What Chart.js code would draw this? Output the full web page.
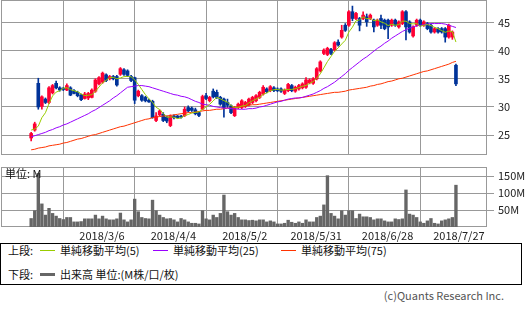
<!DOCTYPE html>
<html><head><meta charset="utf-8">
<script src="https://cdn.jsdelivr.net/npm/chart.js@4.4.1/dist/chart.umd.min.js"></script>
<style>
body{margin:0;background:#fff;width:525px;height:310px;overflow:hidden;position:relative;font-family:'Noto Sans CJK JP','DejaVu Sans',sans-serif;}
canvas{position:absolute;left:0;}
#c1{top:0;}
#c2{top:160px;}
#unit{position:absolute;left:5px;top:167px;font-size:11px;line-height:13px;color:#111;}
#legend{position:absolute;left:0;top:243px;width:520px;height:40px;border:1px solid #000;}
#legend span{position:absolute;font-size:11px;line-height:13px;color:#111;white-space:nowrap;}
#legend i{position:absolute;display:block;}
#copy{position:absolute;right:21px;top:289px;font-size:11px;line-height:13px;color:#555;white-space:nowrap;}
</style></head>
<body>
<canvas id="c1" width="525" height="155"></canvas>
<canvas id="c2" width="525" height="82"></canvas>
<div id="unit">単位: M</div>
<div id="legend">
  <span style="left:7px;top:0px">上段:</span>
  <i style="left:39px;top:6px;width:15px;height:1px;background:#99cc00"></i>
  <span style="left:59px;top:0px">単純移動平均(5)</span>
  <i style="left:152px;top:6px;width:15px;height:1px;background:#9900ff"></i>
  <span style="left:172px;top:0px">単純移動平均(25)</span>
  <i style="left:280px;top:6px;width:15px;height:1px;background:#ff3300"></i>
  <span style="left:300px;top:0px">単純移動平均(75)</span>
  <span style="left:7px;top:24px">下段:</span>
  <i style="left:39px;top:29px;width:15px;height:3px;background:#666"></i>
  <span style="left:59px;top:24px">出来高 単位:(M株/口/枚)</span>
</div>
<div id="copy">(c)Quants Research Inc.</div>
<script>
const tickIndex = [19, 39, 59, 79, 99, 119];
const tickLabels = ['2018/3/6', '2018/4/4', '2018/5/2', '2018/5/31', '2018/6/28', '2018/7/27'];
const priceTicks = [25, 30, 35, 40, 45];
const volumeTicks = [50, 100, 150];

const opens = [24.5,25.9,34.2,30.1,31.4,30.8,32.5,34.2,33.4,33.3,
33.0,33.4,32.9,32.6,32.1,31.5,31.6,31.7,32.8,34.1,
34.4,35.7,35.0,35.4,35.4,35.8,36.6,36.4,35.4,35.2,
32.0,32.0,31.7,31.2,31.0,27.6,28.6,28.7,28.2,26.7,
28.4,28.4,28.3,28.45,29.9,29.8,29.5,29.0,29.6,32.0,
31.1,32.8,32.6,31.7,31.4,30.8,30.2,28.45,29.9,29.9,
30.1,30.4,30.8,31.1,31.7,32.3,33.2,32.9,33.4,33.2,
33.2,32.4,32.9,33.8,32.8,33.2,33.4,33.5,34.3,34.2,
35.0,36.4,39.5,39.3,40.2,40.1,41.5,42.4,44.5,44.5,
46.9,45.7,45.7,45.7,46.0,45.7,45.4,44.5,45.7,45.4,
45.4,44.5,45.4,44.2,44.8,46.9,45.1,42.6,44.5,45.4,
44.5,44.8,44.5,43.3,43.9,43.9,43.9,42.4,42.4,37.4];
const highs = [25.5,27.3,35.1,32.0,31.6,33.6,34.0,34.6,33.6,33.5,
34.1,33.6,33.1,32.8,32.3,32.6,32.6,33.2,35.0,35.4,
36.2,35.9,35.6,35.6,35.6,37.0,36.8,36.6,35.6,35.3,
33.0,32.2,31.9,31.4,31.2,29.0,29.5,29.0,28.4,28.6,
28.6,28.5,28.5,30.0,30.2,30.0,29.8,29.2,32.1,32.4,
31.9,33.2,33.0,31.9,31.6,31.4,30.4,30.1,30.7,31.3,
31.0,31.6,31.9,32.2,32.8,33.8,33.4,33.8,33.6,33.4,
33.4,33.2,34.2,34.0,33.7,34.0,34.3,35.2,35.0,35.2,
37.0,38.2,40.3,40.6,40.4,41.6,41.9,44.5,44.8,47.1,
47.9,46.8,45.9,46.9,46.5,46.5,45.6,45.6,46.3,45.6,
45.6,45.6,45.6,45.3,47.1,47.1,45.3,44.4,45.6,45.6,
45.3,45.0,44.7,44.1,44.1,44.1,44.1,44.7,43.5,37.6];
const lows = [24.0,25.7,29.6,29.6,30.6,30.6,32.3,33.2,32.8,32.9,
32.9,32.0,32.3,31.8,31.1,31.4,31.3,31.6,32.6,33.9,
34.2,34.5,34.8,34.8,33.7,35.6,35.6,35.4,34.5,30.6,
31.8,31.0,30.9,30.8,28.0,27.4,28.4,27.4,27.2,26.5,
27.9,28.0,28.0,28.3,29.1,29.2,28.6,28.3,29.5,31.3,
30.9,31.6,31.5,30.3,28.2,29.9,28.8,28.3,29.7,29.7,
29.9,30.2,30.6,30.9,31.5,32.1,32.5,32.7,32.7,32.7,
32.6,32.2,32.7,32.7,32.6,33.0,33.2,33.3,34.1,34.0,
34.8,36.2,39.3,39.1,39.3,39.9,40.8,42.2,43.4,44.3,
45.3,45.5,43.5,45.5,44.3,45.5,43.3,44.3,43.9,43.7,
42.1,44.3,44.3,44.0,44.6,41.9,43.1,42.4,44.3,44.3,
44.3,43.7,43.1,43.1,43.1,43.1,41.5,42.2,42.0,33.8];
const closes = [25.3,27.0,30.0,31.8,30.8,33.4,33.8,33.4,33.0,33.1,
33.8,32.1,32.4,32.0,31.3,32.3,32.4,33.0,34.8,35.2,
36.0,34.7,35.4,35.0,33.9,36.8,35.8,35.6,34.7,31.2,
32.8,31.2,31.1,30.9,28.1,28.4,29.3,27.6,27.5,28.4,
28.1,28.1,28.2,29.6,29.3,29.4,28.8,28.5,31.85,31.5,
31.7,31.8,31.7,30.5,29.9,30.3,29.0,29.9,30.5,31.1,
30.8,31.4,31.7,32.0,32.6,33.5,32.7,33.6,32.9,32.9,
32.8,33.0,34.0,32.9,33.5,33.8,34.1,34.8,34.8,35.0,
36.8,38.0,40.1,40.4,39.5,41.4,41.0,43.6,43.6,46.9,
45.7,46.6,44.5,46.3,45.1,46.3,44.2,45.4,44.5,43.9,
44.2,45.4,44.5,45.1,46.9,44.2,43.3,44.2,45.4,44.5,
45.1,43.9,43.3,43.9,43.3,43.3,42.4,44.5,43.3,34.1];
const volumes = [25,48,158,68,35,55,40,32,25,22,
28,28,15,15,16,24,24,24,35,24,
32,24,21,21,24,41,21,15,21,82,
45,28,25,24,79,48,35,28,24,25,
21,15,25,21,15,11,11,9,48,24,
21,35,28,40,94,45,35,40,28,21,
21,19,20,18,21,21,15,18,15,9,
9,11,20,14,11,15,11,21,15,15,
28,32,65,151,40,32,24,48,35,48,
48,25,38,30,30,28,21,24,24,18,
15,15,24,22,24,109,38,35,28,15,
11,18,25,11,9,18,21,24,28,123];
// 5-day average values at the first four days (earlier days are outside the picture)
const ma5Head = [25.9, 26.1, 26.6, 28.1];
const ma25 = [24.7,24.9,25.1,25.3,25.5,25.8,
26.0,26.3,26.5,26.8,27.0,
27.3,27.6,27.9,28.2,28.5,
28.8,29.2,29.5,29.9,
30.3,30.7,31.1,31.6,32.0,
32.5,33.0,33.5,
33.6,33.7,33.8,
33.8,33.7,33.6,33.4,
33.2,33.0,32.8,32.6,32.4,
32.2,32.1,31.9,31.8,31.6,
31.3,31.0,30.8,30.5,
30.4,30.3,30.1,30.0,29.9,
29.8,29.8,29.7,29.7,29.6,29.6,
29.6,29.7,29.7,29.8,
30.0,30.1,30.3,30.5,
30.7,30.9,31.0,31.2,31.4,
31.5,31.6,31.6,31.7,
31.9,32.1,32.3,
32.6,32.9,33.3,33.6,34.0,
34.4,34.9,35.4,35.9,36.5,
37.0,37.5,38.0,38.5,38.9,
39.4,39.9,40.4,40.8,41.3,
41.7,42.2,42.6,43.0,43.4,
43.7,44.0,44.2,44.4,44.5,
44.6,44.7,44.8,44.8,44.8,
44.8,44.7,44.5,44.3,44.1];
const ma75 = [22.4,22.5,22.7,22.8,22.9,23.1,23.2,23.3,23.4,23.6,23.7,
23.9,24.1,24.3,24.4,24.6,24.8,25.0,25.1,25.3,
25.5,25.7,25.9,26.1,26.3,26.5,26.6,26.8,27.0,27.2,
27.4,27.6,27.8,27.9,28.1,
28.2,28.3,28.4,28.4,28.5,28.6,
28.7,28.8,28.9,29.0,29.0,29.1,29.2,29.3,
29.4,29.4,29.5,29.6,29.6,29.7,29.8,29.8,29.9,30.0,
30.1,30.2,30.3,30.4,30.4,30.5,30.6,30.7,30.8,
30.9,31.0,31.1,31.2,31.3,31.4,31.5,31.6,31.7,
31.8,31.9,32.0,32.1,32.2,32.3,32.4,32.5,32.6,32.6,32.7,
32.8,33.0,33.1,33.2,33.3,33.4,33.5,33.7,33.8,
34.0,34.1,34.3,34.5,34.6,34.8,35.0,35.1,35.3,
35.5,35.7,35.9,36.1,36.3,36.4,36.6,36.8,37.0,
37.2,37.4,37.6,37.9,38.1];

const FONT = "'Noto Sans CJK JP','DejaVu Sans',sans-serif";
const UP = '#ff0033', DOWN = '#003399';
const X_MIN = -8.45, X_MAX = 127.7;

const ma5 = closes.map((c, i) => {
  if (i < 4) return ma5Head[i];
  let s = 0; for (let k = i - 4; k <= i; k++) s += closes[k];
  return s / 5;
});
const candleColors = closes.map((c, i) => c >= opens[i] ? UP : DOWN);
const pts = arr => arr.map((v, i) => ({x: i, y: v}));

const frame = {
  id: 'frame',
  beforeDatasetsDraw(chart) {
    const a = chart.chartArea, ctx = chart.ctx;
    ctx.save();
    ctx.strokeStyle = '#999'; ctx.lineWidth = 1;
    ctx.strokeRect(Math.round(a.left) + 0.5, Math.round(a.top) + 0.5,
      Math.round(a.right) - Math.round(a.left) - 1, Math.round(a.bottom) - Math.round(a.top) - 1);
    ctx.restore();
  }
};

const zeroPad = s => { s.paddingTop = 0; s.paddingBottom = 0; s.paddingLeft = 0; s.paddingRight = 0; };

const xScale = (axisHeight, showLabels) => ({
  type: 'linear', min: X_MIN, max: X_MAX, offset: false,
  afterBuildTicks: s => { s.ticks = tickIndex.map(v => ({value: v})); },
  afterFit: s => { s.height = axisHeight; zeroPad(s); },
  ticks: showLabels ? {
    autoSkip: false, maxRotation: 0, padding: 2, labelOffset: 3, color: '#222',
    font: {size: 11, family: FONT},
    callback: v => tickLabels[tickIndex.indexOf(v)]
  } : {display: false},
  grid: {color: '#999', drawTicks: false},
  border: {display: false}
});

const yScale = (min, max, ticks, fmt) => ({
  position: 'right', min: min, max: max,
  afterBuildTicks: s => { s.ticks = ticks.map(v => ({value: v})); },
  afterFit: s => { s.width = 38; zeroPad(s); },
  ticks: {color: '#222', padding: 4, font: {size: 11, family: FONT}, callback: fmt},
  grid: {color: '#999', tickLength: 7},
  border: {display: false}
});

new Chart(document.getElementById('c1'), {
  type: 'bar',
  data: {datasets: [
    {type: 'line', data: pts(ma5), borderColor: '#99cc00', borderWidth: 1, pointRadius: 0, order: 0},
    {type: 'line', data: pts(ma25), borderColor: '#9900ff', borderWidth: 1, pointRadius: 0, order: 0},
    {type: 'line', data: pts(ma75), borderColor: '#ff3300', borderWidth: 1, pointRadius: 0, order: 0},
    {type: 'bar', data: lows.map((l, i) => ({x: i, y: [l, highs[i]]})), backgroundColor: candleColors,
      barThickness: 1, grouped: false, order: 2},
    {type: 'bar', data: opens.map((o, i) => ({x: i, y: [o, closes[i]]})), backgroundColor: candleColors,
      barThickness: 3, minBarLength: 1, grouped: false, order: 1}
  ]},
  options: {
    responsive: false, animation: false, events: [],
    layout: {padding: {left: 1, top: 0, right: 0, bottom: 0}},
    plugins: {legend: {display: false}, tooltip: {enabled: false}},
    scales: {
      x: xScale(0, false),
      y: yScale(21.48, 48.98, priceTicks, v => v)
    }
  },
  plugins: [frame]
});

new Chart(document.getElementById('c2'), {
  type: 'bar',
  data: {datasets: [
    {data: pts(volumes), backgroundColor: '#666', barThickness: 2.7}
  ]},
  options: {
    responsive: false, animation: false, events: [],
    layout: {padding: {left: 1, top: 7, right: 0, bottom: 0}},
    plugins: {legend: {display: false}, tooltip: {enabled: false}},
    scales: {
      x: xScale(15, true),
      y: yScale(0, 176.5, volumeTicks, v => v + 'M')
    }
  },
  plugins: [frame]
});
</script>
</body></html>
